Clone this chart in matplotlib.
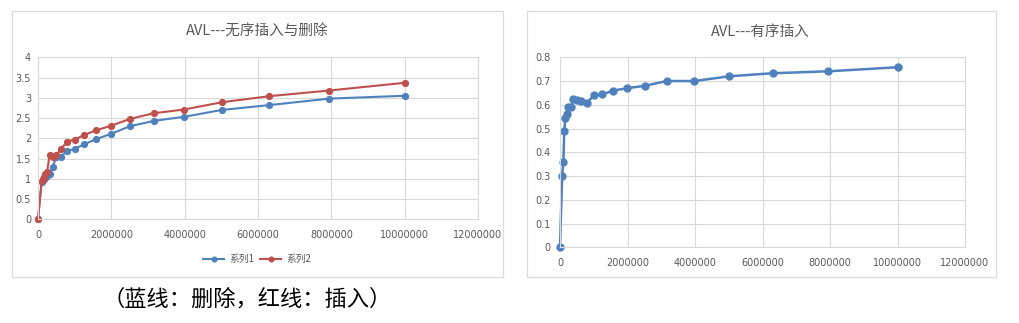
import matplotlib.pyplot as plt
from matplotlib.patches import Rectangle

# left chart: AVL unordered insert / delete
x_left = [0, 100000, 125893, 158489, 199526, 251189, 316228, 398107, 501187,
          630957, 794328, 1000000, 1258925, 1584893, 1995262, 2511886,
          3162278, 3981072, 5011872, 6309573, 7943282, 10000000]
delete_avl = [0, 0.93, 0.97, 1.0, 1.03, 1.08, 1.12, 1.3, 1.53, 1.55, 1.69, 1.74,
              1.85, 1.98, 2.11, 2.3, 2.43, 2.53, 2.7, 2.82, 2.98, 3.05]
insert_avl = [0, 0.95, 1.0, 1.05, 1.12, 1.18, 1.59, 1.53, 1.59, 1.74, 1.92, 1.97,
              2.08, 2.2, 2.31, 2.48, 2.62, 2.71, 2.89, 3.04, 3.18, 3.37]

# right chart: AVL ordered insert
x_right = [0, 63096, 100000, 125893, 158489, 199526, 251189, 316228, 398107,
           501187, 630957, 794328, 1000000, 1258925, 1584893, 1995262, 2511886,
           3162278, 3981072, 5011872, 6309573, 7943282, 10000000]
ordered_insert = [0, 0.30, 0.36, 0.49, 0.545, 0.56, 0.59, 0.59, 0.625, 0.62, 0.615,
                  0.607, 0.64, 0.644, 0.66, 0.67, 0.68, 0.70, 0.70, 0.72, 0.733,
                  0.741, 0.758]

x_ticks = [0, 2000000, 4000000, 6000000, 8000000, 10000000, 12000000]
x_ticklabels = ["0", "2000000", "4000000", "6000000", "8000000", "10000000", "12000000"]
y_left_ticks = [0, 0.5, 1, 1.5, 2, 2.5, 3, 3.5, 4]
y_left_labels = ["0", "0.5", "1", "1.5", "2", "2.5", "3", "3.5", "4"]
y_right_ticks = [0, 0.1, 0.2, 0.3, 0.4, 0.5, 0.6, 0.7, 0.8]
y_right_labels = ["0", "0.1", "0.2", "0.3", "0.4", "0.5", "0.6", "0.7", "0.8"]

W, H = 1019, 323
BLUE = "#4F81BD"
RED = "#C0504D"
GRID = "#d9d9d9"
TXT = "#595959"
TICK_FONT = ["Liberation Sans Narrow", "DejaVu Sans"]
CJK = ["Noto Sans CJK SC", "DejaVu Sans"]


def box(x0, y0, x1, y1):
    # pixel box (top-left origin) -> figure fraction [l, b, w, h]
    return [x0 / W, 1 - y1 / H, (x1 - x0) / W, (y1 - y0) / H]


def style_axes(ax, yticks, ylabels, ymax, ypad):
    ax.set_xlim(0, 12000000)
    ax.set_ylim(0, ymax)
    ax.set_xticks(x_ticks)
    ax.set_xticklabels(x_ticklabels, family=TICK_FONT, fontsize=7, color=TXT)
    ax.set_yticks(yticks)
    ax.set_yticklabels(ylabels, family=TICK_FONT, fontsize=7, color=TXT)
    ax.tick_params(axis="both", length=0)
    ax.tick_params(axis="x", pad=7.5)
    ax.tick_params(axis="y", pad=ypad)
    ax.grid(color=GRID, linewidth=0.8)
    ax.set_axisbelow(True)
    ax.patch.set_alpha(0)
    for spine in ax.spines.values():
        spine.set_color(GRID)
        spine.set_linewidth(0.8)


def main() -> None:
    fig = plt.figure(figsize=(W / 100, H / 100), dpi=100)

    for frame in (box(12, 11, 503, 277), box(527, 11, 996, 277)):
        fig.add_artist(Rectangle((frame[0], frame[1]), frame[2], frame[3],
                                 transform=fig.transFigure, facecolor="white",
                                 edgecolor="#dcdcdc", linewidth=0.9, zorder=-5))

    ax1 = fig.add_axes(box(38, 57.3, 478, 219.3))
    ax1.plot(x_left, delete_avl, color=BLUE, lw=1.5, marker="o", ms=4.2,
             label="系列1", clip_on=False)
    ax1.plot(x_left, insert_avl, color=RED, lw=1.5, marker="o", ms=4.2,
             label="系列2", clip_on=False)
    style_axes(ax1, y_left_ticks, y_left_labels, 4, 5)
    leg = ax1.legend(loc="center", bbox_to_anchor=(257 / W, 1 - 259 / H),
                     bbox_transform=fig.transFigure, ncol=2, frameon=False,
                     prop={"family": CJK, "size": 7}, handlelength=2.2,
                     columnspacing=0.6, handletextpad=0.5, markerscale=0.8)
    for text in leg.get_texts():
        text.set_color(TXT)

    ax2 = fig.add_axes(box(560, 57.3, 965, 247.3))
    ax2.plot(x_right, ordered_insert, color=BLUE, lw=1.8, marker="o", ms=5,
             clip_on=False)
    style_axes(ax2, y_right_ticks, y_right_labels, 0.8, 6.5)

    fig.text(257 / W, 1 - 32 / H, "AVL---无序插入与删除", family=CJK, fontsize=10.5,
             color=TXT, ha="center", va="center")
    fig.text(760 / W, 1 - 32 / H, "AVL---有序插入", family=CJK, fontsize=10.5,
             color=TXT, ha="center", va="center")
    fig.text(247 / W, 1 - 299 / H, "（蓝线：删除，红线：插入）", family=CJK,
             fontsize=16, color="black", ha="center", va="center")

    fig.savefig("out.png", dpi=100)
    plt.close(fig)


if __name__ == "__main__":
    main()
